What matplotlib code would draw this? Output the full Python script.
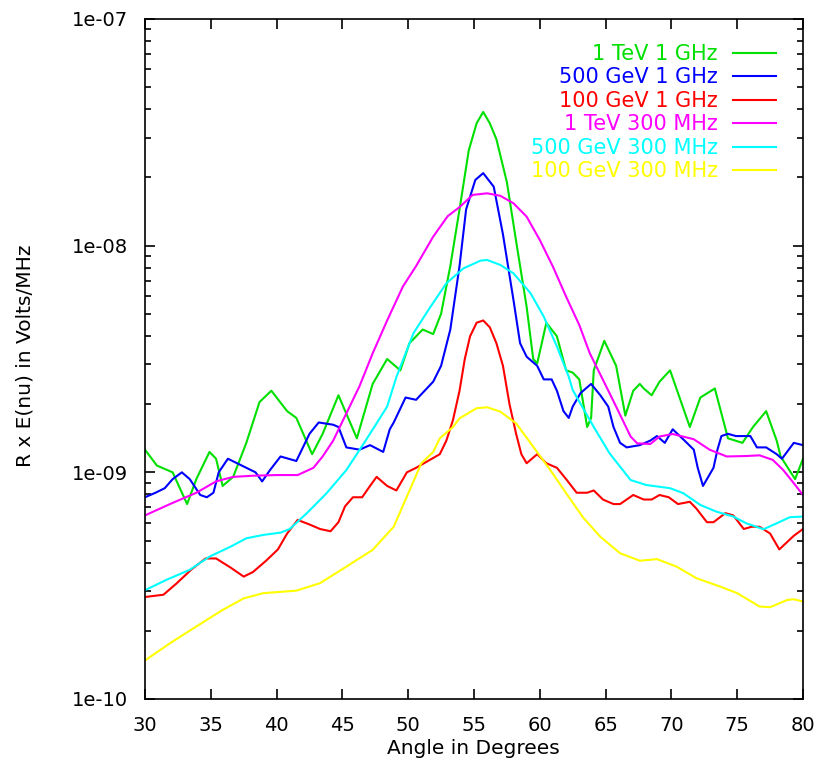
import matplotlib
matplotlib.use("Agg")
import matplotlib.pyplot as plt
import numpy as np
from matplotlib.ticker import FixedLocator, FixedFormatter, LogLocator, NullFormatter

plt.rcParams["font.family"] = ["DejaVu Sans"]

# angle (deg) and log10 of R x E(nu) for each run
green_x = [30.0, 30.9, 32.1, 33.2, 33.9, 34.9, 35.4, 35.9, 36.7, 37.7, 38.7, 39.6, 40.8, 41.5, 42.7, 43.5,
           44.7, 46.1, 47.3, 48.4, 49.4, 50.1, 51.1, 51.9, 52.5, 53.2, 53.9, 54.6, 55.2, 55.7, 56.2, 56.7,
           57.5, 58.2, 59.0, 59.5, 59.8, 60.5, 61.3, 62.0, 62.5, 63.0, 63.6, 63.9, 64.1, 64.9, 65.8, 66.5,
           67.1, 67.6, 67.9, 68.5, 69.1, 69.9, 71.4, 72.2, 73.3, 74.3, 75.4, 76.2, 77.2, 78.0, 78.3, 79.4, 80.0]
green_log = [-8.90, -8.97, -9.00, -9.14, -9.03, -8.91, -8.94, -9.06, -9.02, -8.87, -8.69, -8.64, -8.73, -8.76,
             -8.92, -8.83, -8.66, -8.85, -8.61, -8.50, -8.55, -8.43, -8.37, -8.39, -8.30, -8.09, -7.84, -7.58,
             -7.46, -7.41, -7.46, -7.53, -7.72, -7.98, -8.27, -8.50, -8.52, -8.34, -8.40, -8.55, -8.56, -8.59,
             -8.80, -8.76, -8.55, -8.42, -8.53, -8.75, -8.64, -8.61, -8.63, -8.66, -8.60, -8.55, -8.80, -8.67,
             -8.63, -8.85, -8.87, -8.80, -8.73, -8.86, -8.93, -9.03, -8.94]

blue_x = [30.0, 30.8, 31.5, 32.1, 32.8, 33.4, 34.2, 34.7, 35.2, 35.6, 36.3, 37.0, 37.7, 38.4, 38.9, 39.5,
          40.3, 40.9, 41.5, 42.0, 42.5, 43.2, 44.3, 44.7, 45.3, 46.3, 47.1, 48.1, 48.6, 48.9, 49.8, 50.6,
          51.9, 52.5, 53.2, 53.9, 54.4, 55.1, 55.7, 56.5, 57.2, 58.0, 58.5, 59.0, 59.8, 60.3, 60.9, 61.3,
          61.8, 62.2, 62.5, 63.1, 63.9, 64.6, 65.2, 65.6, 66.1, 66.6, 67.6, 68.4, 68.9, 69.5, 70.1, 71.0,
          71.7, 72.0, 72.4, 73.2, 73.5, 73.8, 74.3, 74.9, 76.0, 76.5, 77.2, 78.0, 78.4, 79.3, 80.0]
blue_log = [-9.11, -9.09, -9.07, -9.03, -9.00, -9.03, -9.10, -9.11, -9.09, -9.00, -8.94, -8.96, -8.98, -9.00,
            -9.04, -8.99, -8.93, -8.94, -8.95, -8.89, -8.83, -8.78, -8.79, -8.80, -8.89, -8.90, -8.88, -8.91,
            -8.81, -8.78, -8.67, -8.68, -8.60, -8.53, -8.37, -8.09, -7.84, -7.71, -7.68, -7.74, -7.95, -8.24,
            -8.43, -8.49, -8.53, -8.59, -8.59, -8.64, -8.73, -8.76, -8.71, -8.65, -8.61, -8.66, -8.71, -8.80,
            -8.87, -8.89, -8.88, -8.86, -8.84, -8.87, -8.81, -8.86, -8.90, -8.98, -9.06, -8.98, -8.90, -8.84,
            -8.83, -8.84, -8.84, -8.89, -8.89, -8.92, -8.94, -8.87, -8.88]

red_x = [30.0, 31.4, 32.4, 33.5, 34.6, 35.4, 36.5, 37.5, 38.2, 39.2, 40.1, 40.8, 41.6, 42.5, 43.3, 44.1,
         44.7, 45.2, 45.8, 46.5, 47.1, 47.6, 48.4, 49.1, 49.9, 50.6, 51.5, 52.4, 52.9, 53.4, 53.9, 54.3,
         54.7, 55.2, 55.7, 56.2, 56.7, 57.2, 57.7, 58.2, 58.6, 59.0, 59.8, 60.5, 61.3, 62.0, 62.8, 63.6,
         64.1, 64.8, 65.6, 66.1, 67.1, 67.9, 68.5, 69.1, 69.8, 70.5, 71.4, 71.9, 72.7, 73.2, 74.1, 74.7,
         75.5, 76.1, 76.7, 77.5, 78.2, 79.3, 80.0]
red_log = [-9.55, -9.54, -9.49, -9.43, -9.38, -9.38, -9.42, -9.46, -9.44, -9.39, -9.34, -9.27, -9.21, -9.23,
           -9.25, -9.26, -9.22, -9.15, -9.11, -9.11, -9.06, -9.02, -9.06, -9.08, -9.00, -8.98, -8.95, -8.92,
           -8.86, -8.77, -8.64, -8.50, -8.40, -8.34, -8.33, -8.36, -8.43, -8.53, -8.70, -8.83, -8.92, -8.96,
           -8.92, -8.96, -8.98, -9.03, -9.09, -9.09, -9.08, -9.12, -9.14, -9.14, -9.10, -9.12, -9.12, -9.10,
           -9.11, -9.14, -9.13, -9.16, -9.22, -9.22, -9.18, -9.19, -9.25, -9.24, -9.24, -9.27, -9.34, -9.28,
           -9.25]

magenta_x = [30.0, 31.9, 33.9, 35.4, 36.7, 38.2, 40.0, 41.6, 42.8, 43.5, 44.3, 45.3, 46.3, 47.3, 48.4, 49.6,
             50.6, 51.9, 53.0, 53.9, 54.9, 56.0, 57.0, 58.0, 59.0, 60.0, 61.0, 62.0, 63.0, 63.8, 64.8, 65.8,
             66.9, 67.4, 68.4, 69.1, 70.1, 71.7, 72.9, 74.2, 75.7, 76.7, 77.7, 78.5, 79.3, 80.0]
magenta_log = [-9.19, -9.14, -9.09, -9.04, -9.02, -9.015, -9.012, -9.012, -8.98, -8.93, -8.86, -8.74, -8.62,
               -8.475, -8.33, -8.18, -8.09, -7.96, -7.87, -7.83, -7.776, -7.769, -7.78, -7.813, -7.872, -7.975,
               -8.093, -8.225, -8.35, -8.475, -8.592, -8.71, -8.842, -8.872, -8.875, -8.842, -8.831, -8.854,
               -8.90, -8.93, -8.928, -8.925, -8.945, -8.99, -9.048, -9.10]

cyan_x = [30.0, 31.6, 33.4, 34.9, 36.5, 37.7, 39.0, 40.3, 41.0, 42.3, 43.8, 45.3, 46.8, 48.4, 49.1, 50.4,
          51.7, 52.9, 54.2, 55.5, 56.0, 57.0, 58.0, 59.3, 60.3, 61.3, 62.2, 62.5, 64.1, 65.3, 66.9, 68.1,
          69.9, 70.9, 72.2, 73.4, 74.7, 75.7, 77.0, 78.0, 79.0, 80.0]
cyan_log = [-9.52, -9.475, -9.43, -9.372, -9.328, -9.291, -9.276, -9.266, -9.25, -9.18, -9.092, -8.99, -8.857,
            -8.71, -8.58, -8.386, -8.269, -8.166, -8.10, -8.066, -8.063, -8.085, -8.122, -8.21, -8.313, -8.445,
            -8.578, -8.637, -8.80, -8.916, -9.034, -9.056, -9.07, -9.092, -9.144, -9.173, -9.195, -9.225,
            -9.251, -9.225, -9.198, -9.195]

yellow_x = [30.0, 31.9, 33.9, 35.9, 37.5, 39.0, 41.5, 43.3, 45.3, 47.3, 48.9, 50.4, 51.0, 51.9, 52.4, 53.4,
            53.9, 55.2, 56.0, 57.0, 58.2, 59.5, 60.8, 62.0, 63.3, 64.6, 66.1, 67.6, 68.9, 70.4, 71.9, 73.7,
            75.0, 76.7, 77.5, 78.8, 79.3, 80.0]
yellow_log = [-9.83, -9.754, -9.68, -9.607, -9.556, -9.533, -9.522, -9.489, -9.416, -9.342, -9.24, -9.04,
              -8.96, -8.91, -8.85, -8.80, -8.762, -8.717, -8.713, -8.732, -8.784, -8.887, -8.99, -9.092, -9.20,
              -9.284, -9.357, -9.39, -9.383, -9.416, -9.467, -9.504, -9.533, -9.592, -9.595, -9.563, -9.56,
              -9.57]

series = [
    ("1 TeV 1 GHz", green_x, green_log, "#00e000"),
    ("500 GeV 1 GHz", blue_x, blue_log, "#0000ff"),
    ("100 GeV 1 GHz", red_x, red_log, "#ff0000"),
    ("1 TeV 300 MHz", magenta_x, magenta_log, "#ff00ff"),
    ("500 GeV 300 MHz", cyan_x, cyan_log, "#00ffff"),
    ("100 GeV 300 MHz", yellow_x, yellow_log, "#ffff00"),
]

y_ticks = [1e-10, 1e-9, 1e-8, 1e-7]
y_tick_labels = ["1e-10", "1e-09", "1e-08", "1e-07"]
x_ticks = [30, 35, 40, 45, 50, 55, 60, 65, 70, 75, 80]

W, H = 819, 763
AX_L, AX_R, AX_T, AX_B = 145, 803, 19, 699
fig = plt.figure(figsize=(W / 100, H / 100), dpi=100)
ax = fig.add_axes([AX_L / W, 1 - AX_B / H, (AX_R - AX_L) / W, (AX_B - AX_T) / H])

for label, xs, logs, color in series:
    ax.plot(xs, 10.0 ** np.asarray(logs), color=color, lw=1.5)

ax.set_yscale("log")
ax.set_xlim(30, 80)
ax.set_ylim(1e-10, 1e-7)
ax.xaxis.set_major_locator(FixedLocator(x_ticks))
ax.yaxis.set_major_locator(FixedLocator(y_ticks))
ax.yaxis.set_major_formatter(FixedFormatter(y_tick_labels))
ax.yaxis.set_minor_locator(LogLocator(base=10, subs=np.arange(2, 10)))
ax.yaxis.set_minor_formatter(NullFormatter())

ax.tick_params(which="both", direction="in", top=True, right=True, width=1.2, labelsize=14, colors="black")
ax.tick_params(which="major", length=7.5)
ax.tick_params(which="minor", length=4.5)
ax.tick_params(axis="x", pad=12)
ax.tick_params(axis="y", pad=12)
for sp in ax.spines.values():
    sp.set_linewidth(1.2)


# key in the top right corner: coloured title, then a short sample line
def to_ax(px, py):
    return (px - AX_L) / (AX_R - AX_L), 1 - (py - AX_T) / (AX_B - AX_T)


for i, (label, xs, logs, color) in enumerate(series):
    row = 53 + 23.4 * i
    tx, ty = to_ax(718, row + 7)
    ax.text(tx, ty, label, color=color, fontsize=15, ha="right", va="baseline", transform=ax.transAxes)
    x0, y0 = to_ax(733, row)
    x1, _ = to_ax(776, row)
    ax.plot([x0, x1], [y0, y0], color=color, lw=1.5, transform=ax.transAxes, clip_on=False)

fig.text(25 / W, 1 - 356 / H, "R x E(nu) in Volts/MHz", rotation=90, ha="center", va="center", fontsize=14.5)
fig.text(473 / W, 1 - 754 / H, "Angle in Degrees", ha="center", va="baseline", fontsize=14.5)

fig.savefig("out.png", dpi=100)
